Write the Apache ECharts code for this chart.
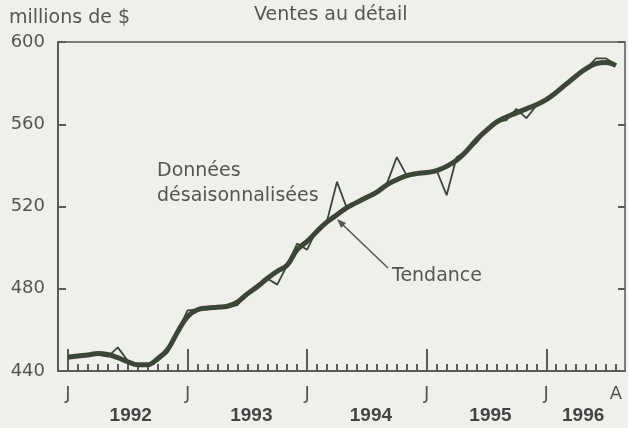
<!DOCTYPE html>
<html>
<head>
<meta charset="utf-8">
<script src="https://cdn.jsdelivr.net/npm/echarts@6/dist/echarts.min.js"></script>
<style>
  html, body { margin: 0; background: #efefec; }
  #chart { width: 628px; height: 428px; }
</style>
</head>
<body>
<div id="chart"></div>
<script>
// ventes au detail, millions de $, janv. 1992 -> aout 1996 (un point par mois)
var desaisonnalisees = [
  447, 447, 448, 448, 447, 451.5, 445, 443, 443, 445, 449, 459,
  469.5, 470, 470, 471, 471, 472, 478, 482, 485, 482, 491.5, 502,
  499, 509, 513, 532, 519, 522, 524.5, 527, 531, 544, 535, 536,
  537, 537.5, 525.5, 544, 547, 551, 557, 561, 562, 567.5, 563, 569,
  572, 575, 579.5, 583.5, 587, 592, 592, 589
]
var tendance = [
  446.7, 447.3, 447.8, 448.5, 448, 446.5, 444.5, 443, 443, 446, 450.5, 459,
  466.5, 469.8, 470.6, 471, 471.5, 473.5, 477.5, 481, 485, 488.5, 491.5, 499,
  503, 508, 512.5, 516, 519.5, 522, 524.5, 527, 530.5, 533, 535, 536,
  536.5, 537.5, 539.5, 542.5, 547, 552.5, 557, 561, 563.5, 565.5, 567.5, 569.5,
  572, 575.5, 579.5, 583.5, 587, 589.5, 590, 588.5
]
// etiquettes de l'axe des x (position = no du mois depuis janv. 1992)
var moisLabels = ['J', 'J', 'J', 'J', 'J', 'A']
var moisPos = [0, 12, 24, 36, 48, 55]
var janvierPos = [0, 12, 24, 36, 48]
var annees = ['1992', '1993', '1994', '1995', '1996']
var anneesPos = [6.3, 18.4, 30.4, 42.4, 51.7]
var yTicks = [440, 480, 520, 560, 600]

var gris = '#555'
var axe = '#5a5a5a'
var trait = '#3c4638'
var font = 'DejaVu Sans'

function toPairs(arr) {
  return arr.map(function(v, i) { return [i, v] })
}
var tousMois = desaisonnalisees.map(function(v, i) { return i })

var chart = echarts.init(document.getElementById('chart'))
chart.setOption({
  backgroundColor: '#efefec',
  animation: false,
  title: [{
    text: 'millions de $',
    left: 9,
    top: 9,
    padding: 0,
    textStyle: { fontFamily: font, fontSize: 19, fontWeight: 'normal', color: gris }
  }, {
    text: 'Ventes au détail',
    left: 254,
    top: 6,
    padding: 0,
    textStyle: { fontFamily: font, fontSize: 19, fontWeight: 'normal', color: gris }
  }],
  grid: {
    left: 58,
    right: 3,
    top: 42,
    bottom: 57,
    show: true,
    borderColor: axe,
    borderWidth: 1.5
  },
  xAxis: [{
    type: 'value',
    min: -1,
    max: 55.9,
    position: 'bottom',
    axisLine: { show: true, onZero: false, lineStyle: { color: axe, width: 2 } },
    axisTick: { show: true, inside: true, length: 7, customValues: tousMois, lineStyle: { color: axe, width: 2 } },
    axisLabel: {
      customValues: moisPos,
      margin: 14,
      fontFamily: font,
      fontSize: 18,
      color: gris,
      formatter: function(v) { return moisLabels[moisPos.indexOf(v)] }
    },
    splitLine: { show: false }
  }, {
    type: 'value',
    min: -1,
    max: 55.9,
    position: 'bottom',
    axisLine: { show: false, onZero: false },
    axisTick: { show: true, inside: true, length: 22, customValues: janvierPos, lineStyle: { color: axe, width: 2 } },
    axisLabel: {
      customValues: anneesPos,
      margin: 35,
      fontFamily: 'Liberation Sans',
      fontWeight: 'bold',
      fontSize: 19,
      color: '#444',
      formatter: function(v) { return annees[anneesPos.indexOf(v)] }
    },
    splitLine: { show: false }
  }],
  yAxis: [{
    type: 'value',
    min: 440,
    max: 600,
    interval: 40,
    axisLine: { show: true, onZero: false, lineStyle: { color: axe, width: 2 } },
    axisTick: { show: true, inside: true, length: 8, customValues: yTicks, lineStyle: { color: axe, width: 2 } },
    axisLabel: { margin: 13, fontFamily: font, fontSize: 18, color: gris },
    splitLine: { show: false }
  }, {
    type: 'value',
    min: 440,
    max: 600,
    interval: 40,
    position: 'right',
    axisLine: { show: false, onZero: false },
    axisTick: { show: true, inside: true, length: 7, customValues: yTicks, lineStyle: { color: axe, width: 2 } },
    axisLabel: { show: false },
    splitLine: { show: false }
  }],
  series: [{
    name: 'Données désaisonnalisées',
    type: 'line',
    data: toPairs(desaisonnalisees),
    showSymbol: false,
    symbol: 'none',
    lineStyle: { color: trait, width: 1.8 }
  }, {
    name: 'Tendance',
    type: 'line',
    data: toPairs(tendance),
    smooth: 0.4,
    showSymbol: false,
    symbol: 'none',
    lineStyle: { color: trait, width: 5 }
  }],
  graphic: [{
    type: 'text',
    left: 157,
    top: 159,
    style: { text: 'Données\ndésaisonnalisées', font: '19px "DejaVu Sans"', fill: gris, lineHeight: 25 }
  }, {
    type: 'text',
    left: 392,
    top: 267,
    style: { text: 'Tendance', font: '19px "DejaVu Sans"', fill: gris }
  }, {
    type: 'line',
    shape: { x1: 388, y1: 268, x2: 342, y2: 224 },
    style: { stroke: gris, lineWidth: 1.5 }
  }, {
    type: 'polygon',
    shape: { points: [[337, 219], [346, 223], [341, 228]] },
    style: { fill: gris }
  }]
})
</script>
</body>
</html>
